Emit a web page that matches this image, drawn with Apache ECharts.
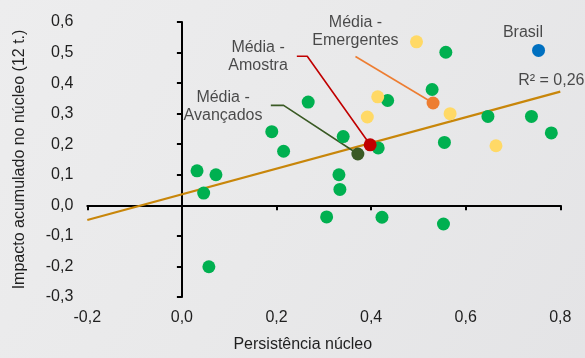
<!DOCTYPE html>
<html>
<head>
<meta charset="utf-8">
<script src="https://cdn.jsdelivr.net/npm/echarts@6/dist/echarts.min.js"></script>
<style>
html,body{margin:0;padding:0;}
#c{width:585px;height:358px;}
</style>
</head>
<body>
<div id="c"></div>
<script>
// Data
const xTicks = [-0.2, 0.0, 0.2, 0.4, 0.6, 0.8];
const yTicks = [-0.3, -0.2, -0.1, 0.0, 0.1, 0.2, 0.3, 0.4, 0.5, 0.6];

const advancedPoints = [
  [0.558, 0.501], [0.529, 0.379], [0.435, 0.343], [0.267, 0.338], [0.647, 0.291],
  [0.739, 0.291], [0.781, 0.237], [0.341, 0.225], [0.555, 0.206], [0.415, 0.188],
  [0.190, 0.241], [0.215, 0.177], [0.332, 0.100], [0.032, 0.113], [0.072, 0.100],
  [0.046, 0.040], [0.057, -0.201], [0.334, 0.052], [0.306, -0.038], [0.423, -0.039],
  [0.553, -0.061]
];
const emergingPoints = [
  [0.496, 0.535], [0.414, 0.355], [0.392, 0.289], [0.567, 0.300], [0.664, 0.195]
];
const brazilPoint = [[0.754, 0.507]];
const meanSample = [[0.398, 0.198]];
const meanAdvanced = [[0.372, 0.168]];
const meanEmerging = [[0.531, 0.335]];

const trendX = [-0.2, 0.8];
const trendY = [-0.048, 0.372];

const sampleLeader = [[0.243, 0.488], [0.265, 0.488], [0.398, 0.198]];
const advancedLeader = [[0.188, 0.327], [0.215, 0.327], [0.372, 0.168]];
const emergingLeader = [[0.367, 0.487], [0.531, 0.335]];

const noteTexts = ['Média -\nAmostra', 'Média -\nAvançados', 'Média -\nEmergentes', 'Brasil', 'R² = 0,26'];
const noteAnchors = [[0.161, 0.486], [0.087, 0.323], [0.367, 0.569], [0.721, 0.564], [0.781, 0.408]];

const fmt = v => (Math.abs(v) < 1e-9 ? 0 : v).toFixed(1).replace('.', ',');
const textColor = '#1f1f1f';
const FONT = 'Liberation Sans, Arial, sans-serif';

const chart = echarts.init(document.getElementById('c'));

function dotSeries(data, color) {
  return { type: 'scatter', xAxisIndex: 0, yAxisIndex: 0, data: data, symbol: 'circle', symbolSize: 13,
    itemStyle: { color: color, opacity: 1 }, z: 5, silent: true };
}
function leaderSeries(data, color) {
  return { type: 'line', xAxisIndex: 0, yAxisIndex: 0, data: data, showSymbol: false, symbol: 'none',
    lineStyle: { color: color, width: 1.6 }, z: 3, silent: true };
}

chart.setOption({
  animation: false,
  backgroundColor: {
    type: 'linear', x: 0, y: 0, x2: 1, y2: 1,
    colorStops: [{ offset: 0, color: '#EDEDEE' }, { offset: 0.5, color: '#E9E9EA' }, { offset: 1, color: '#E4E4E6' }]
  },
  grid: { left: 87.3, right: 24.7, top: 22, bottom: 57.3, containLabel: false },
  xAxis: [
    { type: 'value', min: xTicks[0], max: xTicks[xTicks.length - 1], interval: 0.2, position: 'bottom',
      axisLine: { show: false, onZero: false }, axisTick: { show: false }, splitLine: { show: false },
      axisLabel: { formatter: fmt, fontSize: 16, color: textColor, margin: 13, fontFamily: FONT },
      name: 'Persistência núcleo', nameLocation: 'middle', nameGap: 40,
      nameTextStyle: { fontSize: 16, color: textColor, fontFamily: FONT, padding: [0, 42, 0, 0] } },
    { type: 'value', min: xTicks[0], max: xTicks[xTicks.length - 1], interval: 0.2, position: 'top',
      axisLine: { show: true, onZero: true, lineStyle: { color: '#000', width: 2 } },
      axisTick: { show: true, inside: true, length: 5, lineStyle: { color: '#000', width: 2 } },
      axisLabel: { show: false }, splitLine: { show: false } }
  ],
  yAxis: [
    { type: 'value', min: yTicks[0], max: yTicks[yTicks.length - 1], interval: 0.1, position: 'left',
      axisLine: { show: false, onZero: false }, axisTick: { show: false }, splitLine: { show: false },
      axisLabel: { formatter: fmt, fontSize: 16, color: textColor, margin: 14, fontFamily: FONT },
      name: 'Impacto acumulado no núcleo (12 t.)', nameLocation: 'middle', nameGap: 60, nameRotate: 90,
      nameTextStyle: { fontSize: 16, color: textColor, fontFamily: FONT } },
    { type: 'value', min: yTicks[0], max: yTicks[yTicks.length - 1], interval: 0.1, position: 'right',
      axisLine: { show: true, onZero: true, lineStyle: { color: '#000', width: 2 } },
      axisTick: { show: true, inside: true, length: 5, lineStyle: { color: '#000', width: 2 } },
      axisLabel: { show: false }, splitLine: { show: false } }
  ],
  series: [
    { type: 'line', xAxisIndex: 0, yAxisIndex: 0, data: trendX.map((x, i) => [x, trendY[i]]),
      showSymbol: false, symbol: 'none', lineStyle: { color: '#C8860A', width: 2.2 }, z: 2, silent: true },
    leaderSeries(sampleLeader, '#C00000'),
    leaderSeries(advancedLeader, '#3A5A24'),
    leaderSeries(emergingLeader, '#ED7D31'),
    dotSeries(advancedPoints, '#00B050'),
    dotSeries(emergingPoints, '#FFD966'),
    dotSeries(brazilPoint, '#0070C0'),
    dotSeries(meanEmerging, '#ED7D31'),
    dotSeries(meanAdvanced, '#3A5A24'),
    dotSeries(meanSample, '#C00000'),
    { type: 'scatter', xAxisIndex: 0, yAxisIndex: 0, symbol: 'circle', symbolSize: 1,
      itemStyle: { color: 'rgba(0,0,0,0)' }, z: 6, silent: true,
      data: noteAnchors.map((p, i) => ({ value: p, label: { formatter: noteTexts[i] } })),
      label: { show: true, position: 'inside', fontSize: 16, lineHeight: 18.4, color: textColor,
        fontFamily: FONT, align: 'center', verticalAlign: 'middle' } }
  ]
});
</script>
</body>
</html>
